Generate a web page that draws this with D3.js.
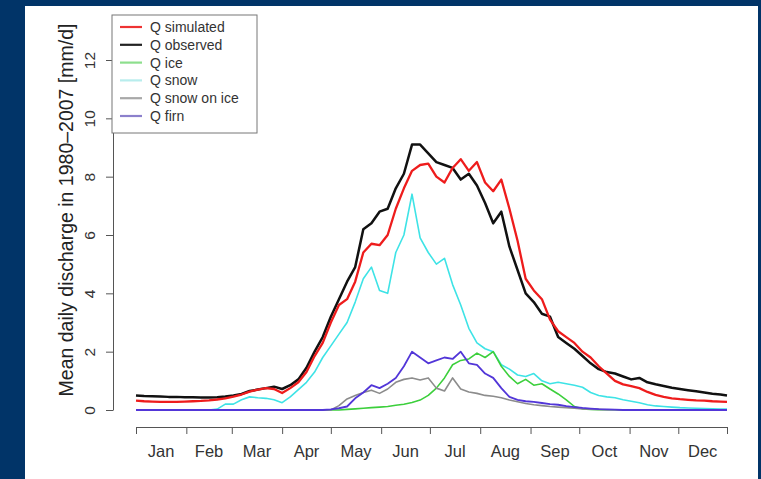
<!DOCTYPE html>
<html>
<head>
<meta charset="utf-8">
<script src="https://cdn.jsdelivr.net/npm/d3@7/dist/d3.min.js"></script>
<style>
  body { margin: 0; background: #013468; }
  svg { display: block; font-family: "Liberation Sans", Arial, sans-serif; }
</style>
</head>
<body>
<script>
// day of year for each sample
var days = [1,6,11,16,21,26,31,36,41,46,
  51,56,61,66,71,76,81,86,91,96,
  101,106,111,116,121,126,131,136,141,146,
  151,156,161,166,171,176,181,186,191,196,
  201,206,211,216,221,226,231,236,241,246,
  251,256,261,266,271,276,281,286,291,296,
  301,306,311,316,321,326,331,336,341,346,
  351,356,361,365];

var qObserved = [0.50,0.48,0.47,0.46,0.45,0.45,0.44,0.44,0.43,0.43,
  0.44,0.46,0.50,0.55,0.65,0.70,0.75,0.80,0.72,0.85,
  1.05,1.45,2.0,2.5,3.2,3.8,4.4,4.9,6.2,6.4,
  6.8,6.9,7.6,8.1,9.1,9.1,8.8,8.5,8.4,8.3,
  7.9,8.1,7.7,7.1,6.4,6.8,5.6,4.8,4.0,3.7,
  3.3,3.2,2.5,2.3,2.1,1.85,1.6,1.4,1.3,1.25,
  1.15,1.05,1.1,0.95,0.88,0.82,0.76,0.72,0.68,0.64,
  0.60,0.56,0.53,0.50];

var qSimulated = [0.32,0.30,0.29,0.28,0.28,0.28,0.29,0.30,0.31,0.33,
  0.36,0.40,0.46,0.53,0.63,0.70,0.75,0.72,0.58,0.75,
  0.95,1.3,1.85,2.3,3.0,3.6,3.8,4.4,5.4,5.7,
  5.65,6.0,6.9,7.6,8.2,8.4,8.45,8.0,7.8,8.3,
  8.6,8.2,8.5,7.8,7.5,7.9,6.9,5.8,4.5,4.1,
  3.8,3.1,2.7,2.5,2.3,2.0,1.8,1.5,1.25,1.0,
  0.88,0.82,0.75,0.62,0.52,0.45,0.40,0.37,0.35,0.33,
  0.32,0.30,0.29,0.28];

var qIce = [0,0,0,0,0,0,0,0,0,0,
  0,0,0,0,0,0,0,0,0,0,
  0,0,0,0,0,0,0.02,0.04,0.06,0.08,
  0.1,0.12,0.16,0.2,0.26,0.34,0.5,0.75,1.1,1.55,
  1.7,1.75,1.95,1.8,2.0,1.5,1.15,0.9,1.05,0.85,
  0.9,0.72,0.55,0.35,0.12,0.04,0.02,0.01,0.01,0.01,
  0,0,0,0,0,0,0,0,0,0,
  0,0,0,0];

var qSnow = [0,0,0,0,0,0,0,0,0,0,
  0.03,0.2,0.2,0.35,0.45,0.42,0.4,0.35,0.25,0.45,
  0.7,0.95,1.3,1.8,2.2,2.6,3.0,3.7,4.5,4.9,
  4.1,4.0,5.4,6.0,7.4,5.9,5.4,5.0,5.2,4.3,
  3.6,2.8,2.3,2.1,2.0,1.55,1.4,1.2,1.15,1.25,
  1.0,0.9,0.95,0.9,0.85,0.78,0.6,0.5,0.45,0.42,
  0.35,0.3,0.25,0.18,0.14,0.12,0.1,0.08,0.07,0.06,
  0.05,0.04,0.03,0.03];

var qSnowOnIce = [0,0,0,0,0,0,0,0,0,0,
  0,0,0,0,0,0,0,0,0,0,
  0,0,0,0,0,0.15,0.38,0.5,0.6,0.68,
  0.57,0.72,0.95,1.05,1.1,1.03,1.1,0.75,0.65,1.1,
  0.72,0.62,0.57,0.5,0.47,0.42,0.34,0.28,0.22,0.18,
  0.15,0.12,0.1,0.08,0.06,0.04,0.03,0.02,0.01,0.01,
  0,0,0,0,0,0,0,0,0,0,
  0,0,0,0];

var qFirn = [0,0,0,0,0,0,0,0,0,0,
  0,0,0,0,0,0,0,0,0,0,
  0,0,0,0,0.02,0.06,0.12,0.4,0.6,0.85,
  0.75,0.9,1.1,1.5,2.0,1.8,1.6,1.7,1.8,1.75,
  2.0,1.6,1.55,1.25,1.1,0.75,0.45,0.35,0.3,0.28,
  0.24,0.2,0.18,0.13,0.1,0.07,0.05,0.03,0.02,0.01,
  0,0,0,0,0,0,0,0,0,0,
  0,0,0,0];

var monthNames = ["Jan","Feb","Mar","Apr","May","Jun","Jul","Aug","Sep","Oct","Nov","Dec"];
var monthStarts = [1,32,60,91,121,152,182,213,244,274,305,335,365];
var yTicks = [0,2,4,6,8,10,12];

var legendNames = ["Q simulated","Q observed","Q ice","Q snow","Q snow on ice","Q firn"];

function draw() {
  var width = 761, height = 479;

  var svg = d3.select("body").append("svg")
    .attr("width", width)
    .attr("height", height);

  // white panel on the blue page
  svg.append("rect")
    .attr("x", 25).attr("y", 6)
    .attr("width", 733).attr("height", 473)
    .attr("fill", "white");

  var x = d3.scaleLinear().domain([1, 365]).range([136, 727]);
  var y = d3.scaleLinear().domain([0, 12]).range([410, 60]);

  // y axis
  var yAxis = svg.append("g")
    .attr("transform", "translate(113,0)")
    .call(d3.axisLeft(y).tickValues(yTicks).tickSize(7).tickSizeOuter(0));
  yAxis.select(".domain").attr("stroke", "#555");
  yAxis.selectAll(".tick line").attr("stroke", "#555");
  yAxis.selectAll(".tick text")
    .attr("x", 0).attr("dy", null)
    .attr("transform", "translate(-24,0) rotate(-90)")
    .attr("text-anchor", "middle")
    .attr("dominant-baseline", "central")
    .attr("font-size", 15.5)
    .attr("fill", "#333")
    .attr("font-family", "Liberation Sans, Arial, sans-serif");

  // x axis, ticks at month boundaries
  var xAxis = svg.append("g")
    .attr("transform", "translate(0,427)")
    .call(d3.axisBottom(x).tickValues(monthStarts).tickFormat("").tickSize(7).tickSizeOuter(0));
  xAxis.select(".domain").attr("stroke", "#555");
  xAxis.selectAll(".tick line").attr("stroke", "#555");

  svg.append("g").selectAll("text")
    .data(monthNames)
    .enter().append("text")
      .attr("x", (d, i) => x((monthStarts[i] + monthStarts[i + 1]) / 2))
      .attr("y", 451)
      .attr("text-anchor", "middle")
      .attr("dominant-baseline", "central")
      .attr("font-size", 16.5)
      .attr("fill", "#333")
      .text(d => d);

  // y axis title
  svg.append("text")
    .attr("transform", "translate(66,210) rotate(-90)")
    .attr("text-anchor", "middle")
    .attr("dominant-baseline", "central")
    .attr("font-size", 19.5)
    .attr("fill", "#222")
    .text("Mean daily discharge in 1980\u20132007 [mm/d]");

  // series
  var series = [
    { values: qSnow, color: "#3ee3e6", w: 1.6 },
    { values: qIce, color: "#3ccf3c", w: 1.6 },
    { values: qSnowOnIce, color: "#8c8c8c", w: 1.6 },
    { values: qFirn, color: "#5236d8", w: 1.8 },
    { values: qObserved, color: "#111111", w: 2.5 },
    { values: qSimulated, color: "#ee1c1c", w: 2.3 }
  ];

  var line = d3.line()
    .x((d, i) => x(days[i]))
    .y(d => y(d));

  svg.append("g").selectAll("path")
    .data(series)
    .enter().append("path")
      .attr("d", d => line(d.values))
      .attr("fill", "none")
      .attr("stroke", d => d.color)
      .attr("stroke-width", d => d.w)
      .attr("stroke-linejoin", "round");

  // legend
  var legendColors = ["#ee3333", "#222222", "#8ddf8d", "#b8eded", "#a8a8a8", "#8c80cc"];
  var lg = svg.append("g");
  lg.append("rect")
    .attr("x", 112).attr("y", 15)
    .attr("width", 145).attr("height", 118)
    .attr("fill", "white")
    .attr("stroke", "#777")
    .attr("stroke-width", 1);
  legendNames.forEach(function(name, i) {
    var ly = 27 + i * 17.8;
    lg.append("line")
      .attr("x1", 120).attr("x2", 142)
      .attr("y1", ly).attr("y2", ly)
      .attr("stroke", legendColors[i])
      .attr("stroke-width", 2.2);
    lg.append("text")
      .attr("x", 150).attr("y", ly)
      .attr("dominant-baseline", "central")
      .attr("font-size", 14)
      .attr("fill", "#333")
      .text(name);
  });
}

draw();
</script>
</body>
</html>
